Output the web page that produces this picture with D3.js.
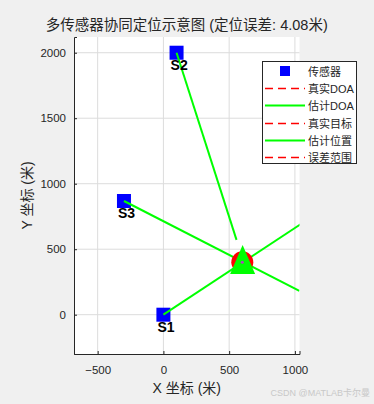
<!doctype html>
<head>
  <meta charset="utf-8">
  <style>
    html, body {
      margin: 0;
      padding: 0;
      width: 374px;
      height: 404px;
      background: #f0f0f0;
      overflow: hidden;
    }
    svg text {
      font-family: "Liberation Sans", Arial, "Noto Sans CJK SC", sans-serif;
    }
  </style>
  <script src="https://cdn.jsdelivr.net/npm/d3@7"></script>
</head>

<body>
  <svg id="chart" width="374" height="404"></svg>

  <script>
    // sensors (m)
    var sensorNames = ['S1', 'S2', 'S3'];
    var sensorX = [0, 100, -300];
    var sensorY = [0, 2000, 868];
    // estimated DOA angle from each sensor (deg) and drawn ray length (m)
    var doaEst = [33.5, -72.3, -27.2];
    var rayLength = 1500;
    var target = [600, 400];
    var estimate = [602.5, 403.2];
    var xTicks = [-500, 0, 500, 1000];
    var yTicks = [0, 500, 1000, 1500, 2000];
    var legendLabels = ['传感器', '真实DOA', '估计DOA', '真实目标', '估计位置', '误差范围'];
    var legendKinds = ['square', 'dash', 'solid', 'dash', 'solid', 'dash'];

    var svg = d3.select('#chart');
    var pLeft = 74, pRight = 299.5, pTop = 37, pBottom = 354;

    var x = d3.scaleLinear().domain([-680, 1035]).range([pLeft, pRight]);
    var y = d3.scaleLinear().domain([-300, 2120]).range([pBottom, pTop]);

    svg.append('rect')
        .attr('x', pLeft).attr('y', pTop)
        .attr('width', pRight - pLeft).attr('height', pBottom - pTop)
        .attr('fill', 'white');

    svg.append('clipPath').attr('id', 'clip')
      .append('rect')
        .attr('x', pLeft).attr('y', pTop)
        .attr('width', pRight - pLeft).attr('height', pBottom - pTop);

    // grid
    svg.append('g').selectAll('line')
        .data(xTicks)
        .enter().append('line')
        .attr('x1', function(d) { return x(d); })
        .attr('x2', function(d) { return x(d); })
        .attr('y1', pTop).attr('y2', pBottom)
        .attr('stroke', '#dcdcdc').attr('stroke-width', 1);
    svg.append('g').selectAll('line')
        .data(yTicks)
        .enter().append('line')
        .attr('y1', function(d) { return y(d); })
        .attr('y2', function(d) { return y(d); })
        .attr('x1', pLeft).attr('x2', pRight)
        .attr('stroke', '#dcdcdc').attr('stroke-width', 1);

    // axes
    var xAxis = svg.append('g')
        .attr('transform', 'translate(0,' + pBottom + ')')
        .call(d3.axisBottom(x).tickValues(xTicks).tickFormat(d3.format('d'))
              .tickSize(-3).tickPadding(12));
    var yAxis = svg.append('g')
        .attr('transform', 'translate(' + pLeft + ',0)')
        .call(d3.axisLeft(y).tickValues(yTicks).tickFormat(d3.format('d'))
              .tickSize(-3).tickPadding(8));
    [xAxis, yAxis].forEach(function(a) {
      a.select('.domain').attr('stroke', '#262626');
      a.selectAll('.tick line').attr('stroke', '#262626');
      a.selectAll('.tick text')
          .attr('fill', '#262626')
          .style('font-size', '11.5px')
          .style('font-family', '"Liberation Sans", Arial, sans-serif');
    });

    var plot = svg.append('g').attr('clip-path', 'url(#clip)');

    // sensors
    plot.selectAll('rect.sensor')
        .data(sensorX)
        .enter().append('rect')
        .attr('class', 'sensor')
        .attr('x', function(d) { return x(d) - 7; })
        .attr('y', function(d, i) { return y(sensorY[i]) - 7; })
        .attr('width', 14).attr('height', 14)
        .attr('fill', '#0000ff');

    // estimated DOA rays
    plot.selectAll('line.doa')
        .data(doaEst)
        .enter().append('line')
        .attr('class', 'doa')
        .attr('x1', function(d, i) { return x(sensorX[i]); })
        .attr('y1', function(d, i) { return y(sensorY[i]); })
        .attr('x2', function(d, i) { return x(sensorX[i] + rayLength * Math.cos(d * Math.PI / 180)); })
        .attr('y2', function(d, i) { return y(sensorY[i] + rayLength * Math.sin(d * Math.PI / 180)); })
        .attr('stroke', '#00ff00').attr('stroke-width', 2);

    // true target
    plot.append('circle')
        .attr('cx', x(target[0])).attr('cy', y(target[1]))
        .attr('r', 11).attr('fill', '#ff0000');

    // estimated position
    var ex = x(estimate[0]), ey = y(estimate[1]);
    plot.append('path')
        .attr('d', 'M' + ex + ',' + (ey - 17) + 'L' + (ex + 12.5) + ',' + (ey + 12) +
              'L' + (ex - 12.5) + ',' + (ey + 12) + 'Z')
        .attr('fill', '#00ff00');
    plot.append('circle')
        .attr('cx', x(target[0])).attr('cy', y(target[1]))
        .attr('r', 1.5).attr('fill', '#b040c0');

    // sensor labels
    svg.selectAll('text.slabel')
        .data(sensorNames)
        .enter().append('text')
        .attr('class', 'slabel')
        .attr('x', function(d, i) { return x(sensorX[i]) - 6; })
        .attr('y', function(d, i) { return y(sensorY[i]) + 17; })
        .attr('font-size', '14px')
        .attr('font-weight', 'bold')
        .attr('fill', 'black')
        .text(function(d) { return d; });

    // title and axis labels
    svg.append('text')
        .attr('x', (pLeft + pRight) / 2).attr('y', 30)
        .attr('text-anchor', 'middle')
        .attr('font-size', '14.5px')
        .attr('fill', '#262626')
        .text('多传感器协同定位示意图 (定位误差: 4.08米)');
    svg.append('text')
        .attr('x', (pLeft + pRight) / 2).attr('y', 393)
        .attr('text-anchor', 'middle')
        .attr('font-size', '14px')
        .attr('fill', '#262626')
        .text('X 坐标 (米)');
    svg.append('text')
        .attr('transform', 'translate(32,' + ((pTop + pBottom) / 2) + ') rotate(-90)')
        .attr('text-anchor', 'middle')
        .attr('font-size', '14px')
        .attr('fill', '#262626')
        .text('Y 坐标 (米)');

    // legend
    var lg = svg.append('g');
    lg.append('rect')
        .attr('x', 262.5).attr('y', 61.5)
        .attr('width', 94).attr('height', 102)
        .attr('fill', 'white').attr('stroke', '#262626').attr('stroke-width', 1);
    var row = lg.selectAll('g.row')
        .data(legendLabels)
        .enter().append('g')
        .attr('class', 'row')
        .attr('transform', function(d, i) { return 'translate(0,' + Math.round(71 + i * 17.2) + ')'; });
    row.each(function(d, i) {
      var g = d3.select(this);
      var kind = legendKinds[i];
      if (kind === 'square') {
        g.append('rect').attr('x', 280).attr('y', -5)
            .attr('width', 10).attr('height', 10).attr('fill', '#0000ff');
      } else {
        g.append('line').attr('x1', 265).attr('x2', 305).attr('y1', 0.5).attr('y2', 0.5)
            .attr('stroke', kind === 'dash' ? '#ff0000' : '#00ff00')
            .attr('stroke-width', kind === 'dash' ? 1.5 : 2)
            .attr('stroke-dasharray', kind === 'dash' ? '8,5' : null);
      }
      g.append('text').attr('x', 308).attr('y', 4.5)
          .attr('font-size', '11px').attr('fill', '#262626')
          .text(d);
    });

    // watermark
    svg.append('text')
        .attr('x', 370).attr('y', 396)
        .attr('text-anchor', 'end')
        .attr('font-size', '9px')
        .attr('fill', '#c8c8c8')
        .text('CSDN @MATLAB卡尔曼');
  </script>
</body>
